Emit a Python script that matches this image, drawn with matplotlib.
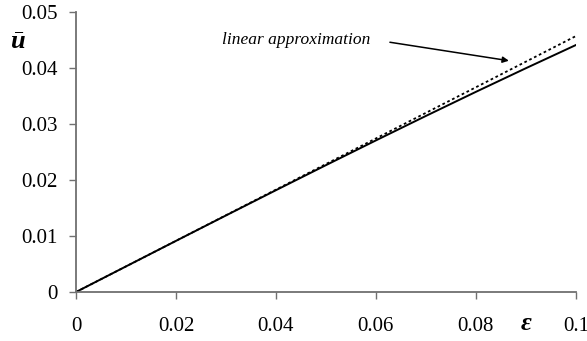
import numpy as np
import matplotlib
matplotlib.use('Agg')
import matplotlib.pyplot as plt

# strain values and mean displacement
eps = [0.0, 0.01, 0.02, 0.03, 0.04, 0.05, 0.06, 0.07, 0.08, 0.09, 0.1]
u_bar = [0.0, 0.00457, 0.00913, 0.01367, 0.01818, 0.02265, 0.02707, 0.03144, 0.03574, 0.03996, 0.0441]

# linear approximation end points
eps_lin = [0.0, 0.1]
u_lin = [0.0, 0.0457]

xticks = [0, 0.02, 0.04, 0.06, 0.08, 0.1]
xtick_labels = ['0', '0.02', '0.04', '0.06', '0.08', '0.1']
yticks = [0, 0.01, 0.02, 0.03, 0.04, 0.05]
ytick_labels = ['0', '0.01', '0.02', '0.03', '0.04', '0.05']

plt.rcParams['font.family'] = ['Liberation Serif', 'DejaVu Serif']
plt.rcParams['mathtext.fontset'] = 'custom'
plt.rcParams['mathtext.rm'] = 'Liberation Serif'
plt.rcParams['mathtext.it'] = 'Liberation Serif:italic'
plt.rcParams['mathtext.bf'] = 'Liberation Serif:bold:italic'

fig = plt.figure(figsize=(5.87, 3.41), dpi=100)
ax = fig.add_axes([0.1295, 0.1437, 0.8515, 0.8211])

ax.plot(eps_lin, u_lin, color='black', linestyle=(0, (1.5, 1.5)), linewidth=1.3)
ax.plot(eps, u_bar, color='black', linewidth=1.4)

ax.set_xlim(0, 0.1)
ax.set_ylim(0, 0.05)
ax.set_xticks(xticks)
ax.set_xticklabels(xtick_labels)
ax.set_yticks(yticks)
ax.set_yticklabels(ytick_labels)

for side in ['top', 'right']:
    ax.spines[side].set_visible(False)
for side in ['left', 'bottom']:
    ax.spines[side].set_color('#707070')
    ax.spines[side].set_linewidth(1.3)

ax.tick_params(axis='x', direction='out', length=5, width=1, color='#707070',
               labelsize=15, pad=13)
ax.tick_params(axis='y', direction='out', length=5, width=1, color='#707070',
               labelsize=15, pad=8)

ax.annotate('', xy=(0.0866, 0.0413), xytext=(0.0628, 0.0446),
            arrowprops=dict(arrowstyle='-|>', color='black', lw=1.1,
                            mutation_scale=9, shrinkA=0, shrinkB=0))
ax.text(0.0440, 0.0450, 'linear approximation', style='italic', fontsize=12.5,
        ha='center', va='center')

fig.text(0.031, 0.875, r'$\bar{\mathbf{u}}$', fontsize=19, ha='center', va='center')
fig.text(0.897, 0.052, 'ε', fontsize=19, fontweight='bold', style='italic',
         ha='center', va='center')

fig.savefig('out.png', dpi=100)
